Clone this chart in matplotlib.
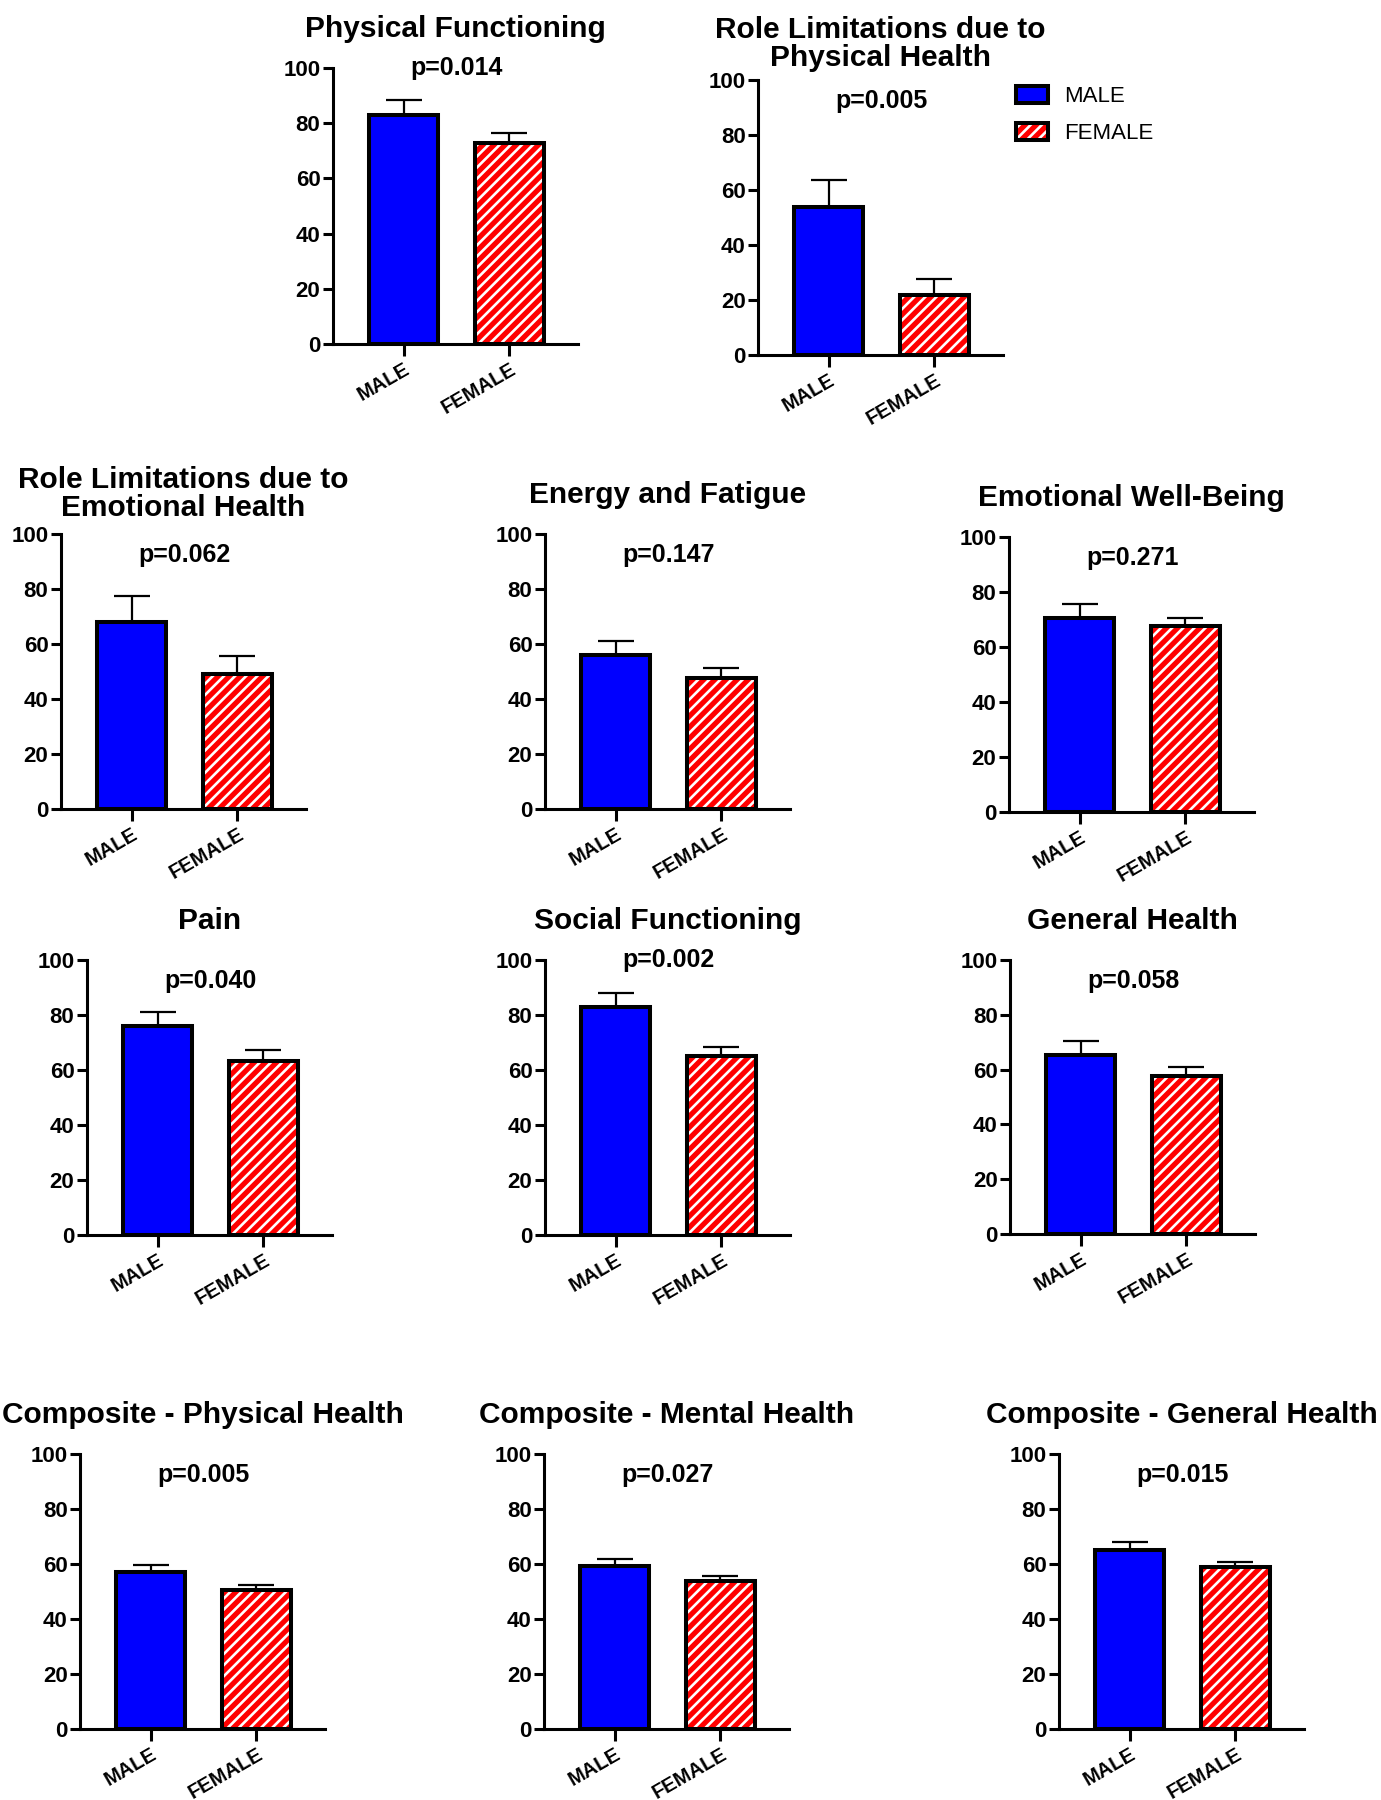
import matplotlib
matplotlib.use("Agg")
import matplotlib.pyplot as plt
from matplotlib.patches import Patch
from matplotlib import transforms

plt.rcParams['font.family'] = ['Liberation Sans', 'DejaVu Sans']
plt.rcParams['hatch.linewidth'] = 1.9

# data (mean + upper SEM)
groups = ["MALE", "FEMALE"]
titles = [
    "Physical Functioning",
    "Role Limitations due to\nPhysical Health",
    "Role Limitations due to\nEmotional Health",
    "Energy and Fatigue",
    "Emotional Well-Being",
    "Pain",
    "Social Functioning",
    "General Health",
    "Composite - Physical Health",
    "Composite - Mental Health",
    "Composite - General Health",
]
p_values = ["p=0.014", "p=0.005", "p=0.062", "p=0.147", "p=0.271", "p=0.040",
            "p=0.002", "p=0.058", "p=0.005", "p=0.027", "p=0.015"]
male_mean = [83.0, 54.0, 68.0, 56.0, 70.5, 76.0, 83.0, 65.5, 57.0, 59.3, 65.0]
male_sem = [5.3, 9.5, 9.5, 5.0, 5.0, 5.0, 5.0, 5.0, 2.5, 2.7, 3.0]
female_mean = [72.8, 22.0, 49.0, 47.8, 67.5, 63.3, 65.0, 57.5, 50.5, 54.0, 58.8]
female_sem = [3.6, 5.7, 6.5, 3.3, 3.2, 4.0, 3.5, 3.3, 1.8, 1.8, 2.0]

# layout in reference pixels: y-axis x, y of 100, y of 0, title gap (pt), p-text y
W, H = 1381, 1800
layout = [
    (333, 68, 344, 18, 100),
    (758, 80, 355, 6, 92.5),
    (61, 534, 809, 9, 92.5),
    (545, 534, 809, 18, 92.5),
    (1009, 537, 812, 18, 92.5),
    (87, 960, 1235, 18, 92.5),
    (545, 960, 1235, 18, 100),
    (1010, 960, 1234, 18, 92.5),
    (80, 1454, 1729, 18, 92.5),
    (544, 1454, 1729, 18, 92.5),
    (1059, 1454, 1729, 18, 92.5),
]
AX_W = 245

BLUE = "#0000FF"
RED = "#FF0000"
LW = 2.2
BAR_LW = 2.9

fig = plt.figure(figsize=(W / 100, H / 100), dpi=100)

for i, (x0, ytop, ybot, tpad, py) in enumerate(layout):
    ax = fig.add_axes([x0 / W, 1 - ybot / H, AX_W / W, (ybot - ytop) / H])
    means = [male_mean[i], female_mean[i]]
    sems = [male_sem[i], female_sem[i]]
    xs = [0, 1]

    # fills
    ax.bar(0, means[0], width=0.65, color=BLUE, linewidth=0, zorder=1)
    ax.bar(1, means[1], width=0.65, color=RED, edgecolor="white",
           hatch="///", linewidth=0, zorder=1)
    # error bars (upper only)
    ax.errorbar(xs, means, yerr=[[0, 0], sems], fmt="none", ecolor="black",
                elinewidth=1.6, capsize=13, capthick=1.6, zorder=2)
    # black outlines
    ax.bar(xs, means, width=0.65, fill=False, edgecolor="black",
           linewidth=BAR_LW, zorder=3)

    ax.set_xlim(-0.67, 1.65)
    ax.set_ylim(0, 100)
    ax.set_yticks([0, 20, 40, 60, 80, 100])
    ax.set_xticks(xs)
    ax.set_xticklabels(groups, rotation=30, ha="right", va="top",
                       rotation_mode="anchor", fontsize=14.5, fontweight="bold")
    for lab in ax.get_yticklabels():
        lab.set_fontsize(16)
        lab.set_fontweight("bold")
    ax.tick_params(axis="y", direction="out", length=7, width=LW, pad=2)
    ax.tick_params(axis="x", direction="out", length=8.5, width=LW, pad=3)
    for s in ["top", "right"]:
        ax.spines[s].set_visible(False)
    for s in ["left", "bottom"]:
        ax.spines[s].set_linewidth(LW)

    trans = transforms.offset_copy(ax.transAxes, fig=fig, x=0, y=tpad, units="points")
    ax.text(0.5, 1.0, titles[i], transform=trans, ha="center", va="bottom",
            fontsize=21.5, fontweight="bold", linespacing=1.0)
    ax.text(0.5, py, p_values[i], ha="center", va="center", fontsize=18,
            fontweight="bold", clip_on=False)

# legend
h_male = Patch(facecolor=BLUE, edgecolor="black", linewidth=BAR_LW)
h_female = (Patch(facecolor=RED, edgecolor="white", hatch="///", linewidth=0),
            Patch(facecolor="none", edgecolor="black", linewidth=BAR_LW))
fig.legend([h_male, h_female], groups, loc="upper left",
           bbox_to_anchor=(1016 / W, 1 - 86 / H), frameon=False, fontsize=16,
           handlelength=1.45, handleheight=0.8, handletextpad=0.7,
           labelspacing=0.7, borderpad=0, borderaxespad=0)

fig.savefig("out.png", dpi=100)
